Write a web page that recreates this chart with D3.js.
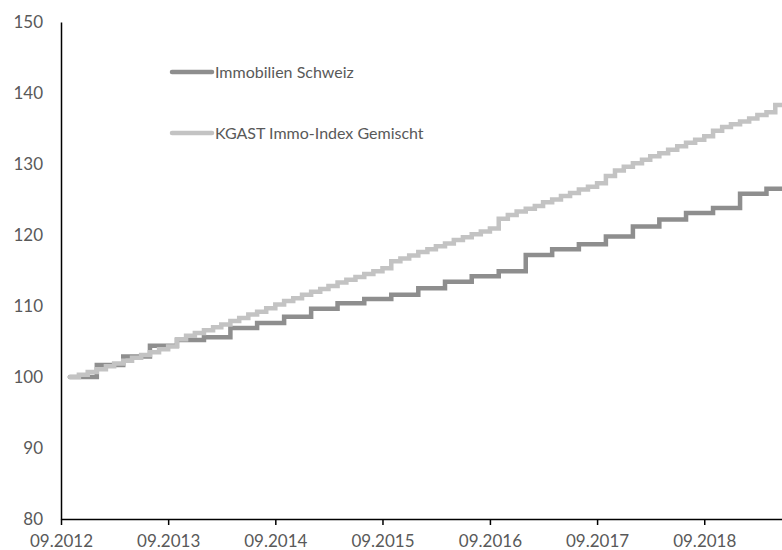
<!DOCTYPE html>
<html>
<head>
<meta charset="utf-8">
<script src="https://cdn.jsdelivr.net/npm/d3@7"></script>
<style>
  body { margin: 0; background: #fff; }
  svg { display: block; font-family: Lato, "Open Sans", sans-serif; }
</style>
</head>
<body>
<svg id="chart" width="782" height="550"></svg>
<script>
// Quarterly values, Immobilien Schweiz (quarter-end months)
const quarters = [
  "2012-09", "2012-12", "2013-03", "2013-06", "2013-09", "2013-12",
  "2014-03", "2014-06", "2014-09", "2014-12", "2015-03", "2015-06",
  "2015-09", "2015-12", "2016-03", "2016-06", "2016-09", "2016-12",
  "2017-03", "2017-06", "2017-09", "2017-12", "2018-03", "2018-06",
  "2018-09", "2018-12", "2019-03", "2019-06"
];
const immoSchweiz = [
  100.0, 101.7, 102.9, 104.4, 105.2, 105.6,
  106.9, 107.6, 108.5, 109.6, 110.4, 111.0,
  111.6, 112.5, 113.4, 114.2, 114.9, 117.2,
  118.0, 118.7, 119.8, 121.2, 122.2, 123.1,
  123.8, 125.8, 126.5, 126.5
];

// Monthly values, KGAST Immo-Index Gemischt
const months = [
  "2012-09", "2012-10", "2012-11", "2012-12",
  "2013-01", "2013-02", "2013-03", "2013-04", "2013-05", "2013-06", "2013-07", "2013-08", "2013-09", "2013-10", "2013-11", "2013-12",
  "2014-01", "2014-02", "2014-03", "2014-04", "2014-05", "2014-06", "2014-07", "2014-08", "2014-09", "2014-10", "2014-11", "2014-12",
  "2015-01", "2015-02", "2015-03", "2015-04", "2015-05", "2015-06", "2015-07", "2015-08", "2015-09", "2015-10", "2015-11", "2015-12",
  "2016-01", "2016-02", "2016-03", "2016-04", "2016-05", "2016-06", "2016-07", "2016-08", "2016-09", "2016-10", "2016-11", "2016-12",
  "2017-01", "2017-02", "2017-03", "2017-04", "2017-05", "2017-06", "2017-07", "2017-08", "2017-09", "2017-10", "2017-11", "2017-12",
  "2018-01", "2018-02", "2018-03", "2018-04", "2018-05", "2018-06", "2018-07", "2018-08", "2018-09", "2018-10", "2018-11", "2018-12",
  "2019-01", "2019-02", "2019-03", "2019-04", "2019-05"
];
const kgast = [
  100.0, 100.3, 100.7, 101.1,
  101.5, 101.9, 102.3, 102.7, 103.1, 103.5, 103.9, 104.3, 105.3, 105.8, 106.2, 106.6,
  107.0, 107.4, 107.9, 108.3, 108.8, 109.2, 109.7, 110.2, 110.7, 111.1, 111.6, 112.0,
  112.4, 112.8, 113.3, 113.7, 114.1, 114.5, 114.9, 115.3, 116.3, 116.7, 117.1, 117.6,
  118.0, 118.4, 118.8, 119.3, 119.7, 120.1, 120.5, 120.9, 122.3, 122.8, 123.3, 123.7,
  124.1, 124.6, 125.0, 125.5, 125.9, 126.4, 126.8, 127.3, 128.3, 129.1, 129.6, 130.1,
  130.6, 131.1, 131.5, 132.0, 132.5, 133.0, 133.4, 133.9, 134.7, 135.2, 135.6, 136.0,
  136.4, 136.9, 137.3, 138.3, 138.6
];

const xTicks = ["2012-09", "2013-09", "2014-09", "2015-09", "2016-09", "2017-09", "2018-09"];
const yTicks = [80, 90, 100, 110, 120, 130, 140, 150];

const seriesNames = ["Immobilien Schweiz", "KGAST Immo-Index Gemischt"];
const seriesColors = ["#8e8e8e", "#c3c3c3"];

const parseMonth = d3.utcParse("%Y-%m");
const fmtTick = d3.utcFormat("%m.%Y");
// values are month-end readings: plot them at the start of the following month
const monthEnd = s => d3.utcMonth.offset(parseMonth(s), 1);

const svg = d3.select("#chart");
const axisColor = "#595959";

const x = d3.scaleTime()
  .domain([parseMonth("2012-09"), parseMonth("2019-09")])
  .range([61, 61 + 7 * 107.2]);

const y = d3.scaleLinear()
  .domain([80, 150])
  .range([519, 22]);

// Y axis: line only, labels to the left
const yAxis = svg.append("g")
  .attr("transform", "translate(61,0)")
  .call(d3.axisLeft(y).tickValues(yTicks).tickSize(0).tickPadding(18));
yAxis.select(".domain").attr("stroke", "#000").attr("stroke-width", 1.5);
yAxis.selectAll("text")
  .attr("fill", axisColor)
  .style("font-size", "17px")
  .style("font-family", "Lato, sans-serif");

// X axis
const xAxis = svg.append("g")
  .attr("transform", "translate(0,519)")
  .call(d3.axisBottom(x).tickValues(xTicks.map(parseMonth)).tickFormat(fmtTick).tickSize(6).tickSizeOuter(0).tickPadding(10));
xAxis.select(".domain").attr("stroke", "#000").attr("stroke-width", 1.5);
xAxis.selectAll(".tick line").attr("stroke", "#000").attr("stroke-width", 1.5);
xAxis.selectAll("text")
  .attr("fill", axisColor)
  .style("font-size", "17px")
  .style("font-family", "Lato, sans-serif");

const line = d3.line()
  .x(d => x(d.date))
  .y(d => y(d.value))
  .curve(d3.curveStepAfter);

const darkData = quarters.map((q, i) => ({ date: monthEnd(q), value: immoSchweiz[i] }));
const lightData = months.map((m, i) => ({ date: monthEnd(m), value: kgast[i] }));

[darkData, lightData].forEach((data, i) => {
  svg.append("path")
    .datum(data)
    .attr("fill", "none")
    .attr("stroke", seriesColors[i])
    .attr("stroke-width", 4.5)
    .attr("stroke-linejoin", "miter")
    .attr("stroke-linecap", "round")
    .attr("d", line);
});

// Legend
const legend = svg.append("g");
seriesNames.forEach((name, i) => {
  const ly = 72 + i * 61;
  legend.append("line")
    .attr("x1", 172).attr("x2", 212)
    .attr("y1", ly).attr("y2", ly)
    .attr("stroke", seriesColors[i])
    .attr("stroke-width", 4.5)
    .attr("stroke-linecap", "round");
  legend.append("text")
    .attr("x", 215)
    .attr("y", ly)
    .attr("dy", "0.35em")
    .attr("fill", axisColor)
    .style("font-size", "16px")
    .text(name);
});
</script>
</body>
</html>
